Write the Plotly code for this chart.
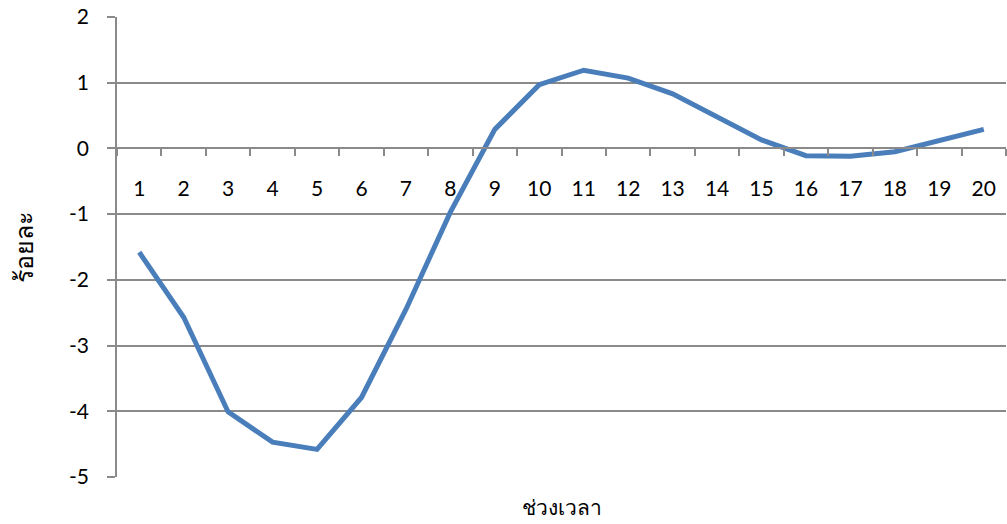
import plotly.graph_objects as go

# Time periods and percentage change per period
periods = [str(i) for i in range(1, 21)]
percent = [-1.58, -2.57, -4.01, -4.47, -4.58, -3.79, -2.45, -0.97, 0.29, 0.97,
           1.19, 1.07, 0.83, 0.48, 0.13, -0.11, -0.12, -0.05, 0.12, 0.29]
y_ticks = [2, 1, 0, -1, -2, -3, -4, -5]
y_tick_text = [str(v) for v in y_ticks]

y_min, y_max = -5, 2
grid_color = "#8a8a8a"
tick_font = dict(family="Lato", size=21, color="#000000")
serif = "'Liberation Serif', 'DejaVu Serif', serif"

fig = go.Figure()
fig.add_trace(go.Scatter(
    x=periods, y=percent, mode="lines",
    line=dict(color="#4a7ebb", width=5),
    showlegend=False, hoverinfo="skip",
))

fig.update_layout(
    width=1007, height=524,
    margin=dict(l=117, r=1, t=17, b=47),
    paper_bgcolor="white", plot_bgcolor="white",
    xaxis=dict(
        type="category",
        anchor="free",
        position=(0 - y_min) / (y_max - y_min),
        showgrid=False, zeroline=False,
        showline=True, linecolor=grid_color, linewidth=1.5,
        ticks="outside", ticklen=7, tickwidth=1.5, tickcolor=grid_color,
        tickson="boundaries",
        tickfont=tick_font,
        ticklabelstandoff=22,
        range=[-0.5, len(periods) - 0.5],
    ),
    yaxis=dict(
        range=[y_min, y_max],
        tickvals=y_ticks,
        ticktext=y_tick_text,
        showgrid=True, gridcolor=grid_color, gridwidth=1.5,
        zeroline=False,
        showline=True, linecolor=grid_color, linewidth=1.5,
        ticks="outside", ticklen=8, tickwidth=1.5, tickcolor=grid_color,
        tickfont=tick_font,
        ticklabelstandoff=14,
    ),
    annotations=[
        dict(text="ช่วงเวลา", xref="paper", yref="paper", x=0.5, y=-0.067,
             xanchor="center", yanchor="middle", showarrow=False,
             font=dict(family=serif, size=21, color="#000000")),
        dict(text="ร้อยละ", xref="paper", yref="paper", x=-0.105, y=0.5,
             xanchor="center", yanchor="middle", showarrow=False, textangle=-90,
             font=dict(family=serif, size=25, color="#000000")),
    ],
)

fig.write_html("out.html")
